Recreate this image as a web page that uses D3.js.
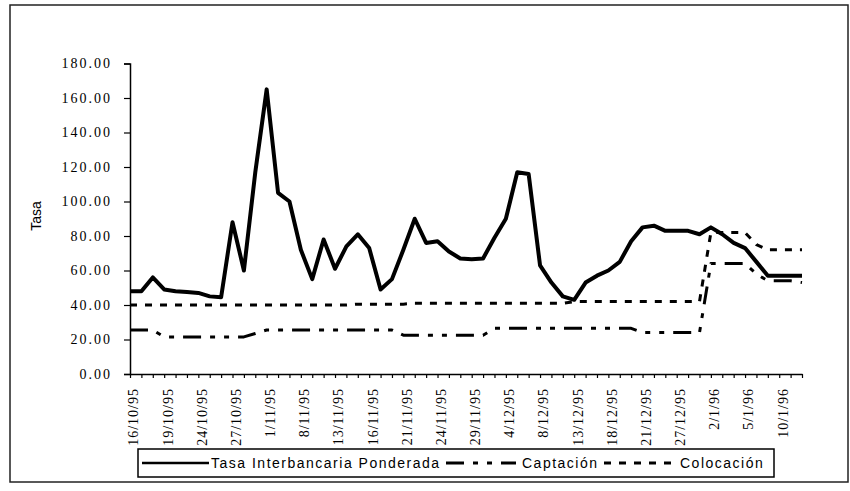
<!DOCTYPE html>
<html>
<head>
<meta charset="utf-8">
<script src="https://cdnjs.cloudflare.com/ajax/libs/d3/7.8.5/d3.min.js"></script>
<style>
  body { margin: 0; background: #fff; }
  svg { display: block; }
  .serif { font-family: "Liberation Serif", "Times New Roman", serif; }
  .sans { font-family: "Liberation Sans", Arial, sans-serif; }
</style>
</head>
<body>
<div id="chart"></div>
<script>
// categories (business days, one per point)
var dates = [
  "16/10/95","17/10/95","18/10/95","19/10/95","20/10/95","23/10/95","24/10/95","25/10/95","26/10/95","27/10/95",
  "30/10/95","31/10/95","1/11/95","6/11/95","7/11/95","8/11/95","9/11/95","10/11/95","13/11/95","14/11/95",
  "15/11/95","16/11/95","17/11/95","20/11/95","21/11/95","22/11/95","23/11/95","24/11/95","27/11/95","28/11/95",
  "29/11/95","30/11/95","1/12/95","4/12/95","5/12/95","6/12/95","8/12/95","11/12/95","12/12/95","13/12/95",
  "14/12/95","15/12/95","18/12/95","19/12/95","20/12/95","21/12/95","22/12/95","26/12/95","27/12/95","28/12/95",
  "29/12/95","2/1/96","3/1/96","4/1/96","5/1/96","8/1/96","9/1/96","10/1/96","11/1/96","12/1/96"
];

var tasa = [
  48, 48, 56, 49, 48, 47.5, 47, 45, 44.5, 88,
  60, 117, 165, 105, 100, 72, 55, 78, 61, 74,
  81, 73, 49, 55, 72, 90, 76, 77, 71, 67,
  66.5, 67, 79, 90, 117, 116, 63, 53, 45, 43,
  53, 57, 60, 65, 77, 85, 86, 83, 83, 83,
  81, 85, 81, 76, 73, 65, 57, 57, 57, 57
];

var captacion = [
  25.5, 25.5, 25.5, 21.5, 21.5, 21.5, 21.5, 21.5, 21.5, 21.5,
  21.5, 23.5, 25.5, 25.5, 25.5, 25.5, 25.5, 25.5, 25.5, 25.5,
  25.5, 25.5, 25.5, 25.5, 22.5, 22.5, 22.5, 22.5, 22.5, 22.5,
  22.5, 22.5, 26.5, 26.5, 26.5, 26.5, 26.5, 26.5, 26.5, 26.5,
  26.5, 26.5, 26.5, 26.5, 26.5, 24, 24, 24, 24, 24,
  24, 64, 64, 64, 64, 58, 54, 54, 54, 53
];

var colocacion = [
  40, 40, 40, 40, 40, 40, 40, 40, 40, 40,
  40, 40, 40, 40, 40, 40, 40, 40, 40, 40,
  40.5, 40.5, 40.5, 40.5, 40.5, 41, 41, 41, 41, 41,
  41, 41, 41, 41, 41, 41, 41, 41, 41, 42,
  42, 42, 42, 42, 42, 42, 42, 42, 42, 42,
  42, 82, 82, 82, 82, 75, 72, 72, 72, 72
];

var yTicks = [0, 20, 40, 60, 80, 100, 120, 140, 160, 180];
var seriesNames = ["Tasa Interbancaria Ponderada", "Captación", "Colocación"];

var W = 850, H = 491;

var svg = d3.select("#chart").append("svg")
    .attr("width", W)
    .attr("height", H);

// scanned page frame
svg.append("rect")
    .attr("x", 10).attr("y", 5)
    .attr("width", 838).attr("height", 477)
    .attr("fill", "none")
    .attr("stroke", "#222")
    .attr("stroke-width", 1.5);

var x = d3.scalePoint().domain(dates).range([130, 802]);
var y = d3.scaleLinear().domain([0, 180]).range([374, 63.5]);

// y axis
var yAxis = svg.append("g")
    .attr("transform", "translate(130,0)")
    .call(d3.axisLeft(y).tickValues(yTicks).tickSize(6).tickPadding(12)
        .tickFormat(d3.format(".2f")));
yAxis.select(".domain").attr("stroke", "#000").attr("stroke-width", 1.5);
yAxis.selectAll(".tick line").attr("stroke", "#000").attr("stroke-width", 1.2);
yAxis.selectAll("text")
    .attr("class", "serif")
    .attr("font-size", 14)
    .attr("letter-spacing", "2px")
    .attr("fill", "#000");

// x axis, a label every third day
var xAxis = svg.append("g")
    .attr("transform", "translate(0,374)")
    .call(d3.axisBottom(x).tickSize(4).tickSizeOuter(0)
        .tickFormat(function(d, i){ return i % 3 == 0 ? d : ""; }));
xAxis.select(".domain").attr("stroke", "#000").attr("stroke-width", 1.5);
xAxis.selectAll(".tick line").attr("stroke", "#000").attr("stroke-width", 1.2);
xAxis.selectAll("text")
    .attr("class", "serif")
    .attr("font-size", 14)
    .attr("letter-spacing", "1px")
    .attr("fill", "#000")
    .attr("text-anchor", "end")
    .attr("transform", "translate(3,14) rotate(-90)")
    .attr("x", 0).attr("y", 0)
    .attr("dy", "0.35em");

// axis title
svg.append("text")
    .attr("class", "sans")
    .attr("transform", "translate(36,216) rotate(-90)")
    .attr("text-anchor", "middle")
    .attr("dy", "0.35em")
    .attr("font-size", 14)
    .attr("fill", "#000")
    .text("Tasa");

var line = d3.line()
    .x(function(d, i){ return x(dates[i]); })
    .y(function(d){ return y(d); });

var styles = [
    {data: tasa, width: 4, dash: null},
    {data: captacion, width: 3, dash: "18,9,5,9,5,9"},
    {data: colocacion, width: 3, dash: "7,8"}
];

svg.append("g").selectAll("path")
    .data(styles).enter().append("path")
    .attr("d", function(s){ return line(s.data); })
    .attr("fill", "none")
    .attr("stroke", "#000")
    .attr("stroke-width", function(s){ return s.width; })
    .attr("stroke-linejoin", "round")
    .attr("stroke-dasharray", function(s){ return s.dash; });

// legend
var legend = svg.append("g");
legend.append("rect")
    .attr("x", 138).attr("y", 449)
    .attr("width", 636).attr("height", 28)
    .attr("fill", "#fff")
    .attr("stroke", "#000")
    .attr("stroke-width", 1.5);

var legendItems = [
    {name: seriesNames[0], x1: 142, x2: 209, tx: 211, width: 2.5, dash: null},
    {name: seriesNames[1], x1: 446, x2: 516, tx: 522, width: 3, dash: "18,9,5,9,5,9"},
    {name: seriesNames[2], x1: 604, x2: 677, tx: 680, width: 3, dash: "7,8"}
];

var items = legend.selectAll("g.item")
    .data(legendItems).enter().append("g").attr("class", "item");
items.append("line")
    .attr("x1", function(d){ return d.x1; })
    .attr("x2", function(d){ return d.x2; })
    .attr("y1", 463).attr("y2", 463)
    .attr("stroke", "#000")
    .attr("stroke-width", function(d){ return d.width; })
    .attr("stroke-dasharray", function(d){ return d.dash; });
items.append("text")
    .attr("class", "sans")
    .attr("x", function(d){ return d.tx; })
    .attr("y", 463)
    .attr("dy", "0.35em")
    .attr("font-size", 14)
    .attr("letter-spacing", "1.5px")
    .attr("fill", "#000")
    .text(function(d){ return d.name; });
</script>
</body>
</html>
